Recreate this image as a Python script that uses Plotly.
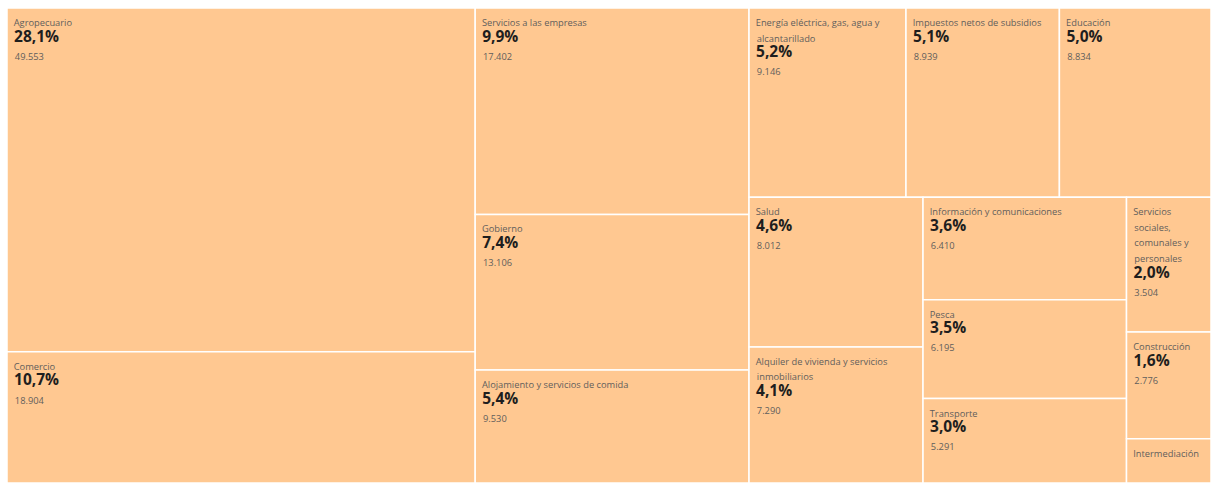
import plotly.graph_objects as go

sectores = [
    "Agropecuario", "Comercio", "Servicios a las empresas", "Gobierno",
    "Alojamiento y servicios de comida", "Energía eléctrica, gas, agua y alcantarillado",
    "Impuestos netos de subsidios", "Educación", "Salud",
    "Alquiler de vivienda y servicios inmobiliarios", "Información y comunicaciones",
    "Pesca", "Transporte", "Servicios sociales, comunales y personales",
    "Construcción", "Intermediación",
]
valores = [49553, 18904, 17402, 13106, 9530, 9146, 8939, 8834, 8012,
           7290, 6410, 6195, 5291, 3504, 2776, 1150]
# label lines as displayed (wrapped as in the chart)
lineas = [
    ["Agropecuario"], ["Comercio"], ["Servicios a las empresas"], ["Gobierno"],
    ["Alojamiento y servicios de comida"], ["Energía eléctrica, gas, agua y", "alcantarillado"],
    ["Impuestos netos de subsidios"], ["Educación"], ["Salud"],
    ["Alquiler de vivienda y servicios", "inmobiliarios"], ["Información y comunicaciones"],
    ["Pesca"], ["Transporte"], ["Servicios", "sociales,", "comunales y", "personales"],
    ["Construcción"], ["Intermediación"],
]

NB = "\u00a0"
GRIS = "color:#5f5e5c"


def etiqueta(ls):
    partes = []
    for i, l in enumerate(ls):
        if i == 0:
            partes.append("<span style='font-size:14.3px'>" + NB + "</span>"
                          "<span style='font-size:9.3px;" + GRIS + "'>" + l + "</span>")
        else:
            partes.append("<span style='font-size:9.3px;" + GRIS + "'>" + NB + NB + l + "</span>")
    return "<br>".join(partes)


etiquetas = [etiqueta(ls) for ls in lineas]

LBL = "%{text}"
PCT = "<span style='font-size:15.5px;color:#1e1e1e'><b>" + NB + "%{percentRoot:.1%}</b></span>"
VAL = "<sub><span style='font-size:9.3px;" + GRIS + "'>" + NB + NB + "%{value:,}</span></sub>"
full_tpl = LBL + "<br>" + PCT + "<br>" + VAL
templates = [full_tpl] * (len(sectores) - 1) + [LBL]

fig = go.Figure(go.Treemap(
    labels=sectores,
    parents=[""] * len(sectores),
    values=valores,
    text=etiquetas,
    texttemplate=templates,
    textposition="top left",
    textfont=dict(family="Open Sans, sans-serif", size=12, color="#1e1e1e"),
    marker=dict(colors=["#FFC891"] * len(sectores),
                line=dict(color="#FFFFFF", width=1.5),
                pad=dict(t=0, l=0, r=0, b=0)),
    tiling=dict(packing="squarify", squarifyratio=1.618034, pad=0),
    pathbar=dict(visible=False),
    sort=True,
    hoverinfo="label+value+percent root",
))

fig.update_layout(
    separators=",.",
    margin=dict(l=7, r=0, t=8, b=0),
    paper_bgcolor="white",
    uniformtext=dict(minsize=12, mode="show"),
)

fig.write_html(
    "out.html",
    config={"displayModeBar": False},
    post_script=(
        "document.body.style.margin='0';"
        "document.body.style.overflow='hidden';"
        "Plotly.Plots.resize(document.getElementById('{plot_id}'));"
    ),
)
